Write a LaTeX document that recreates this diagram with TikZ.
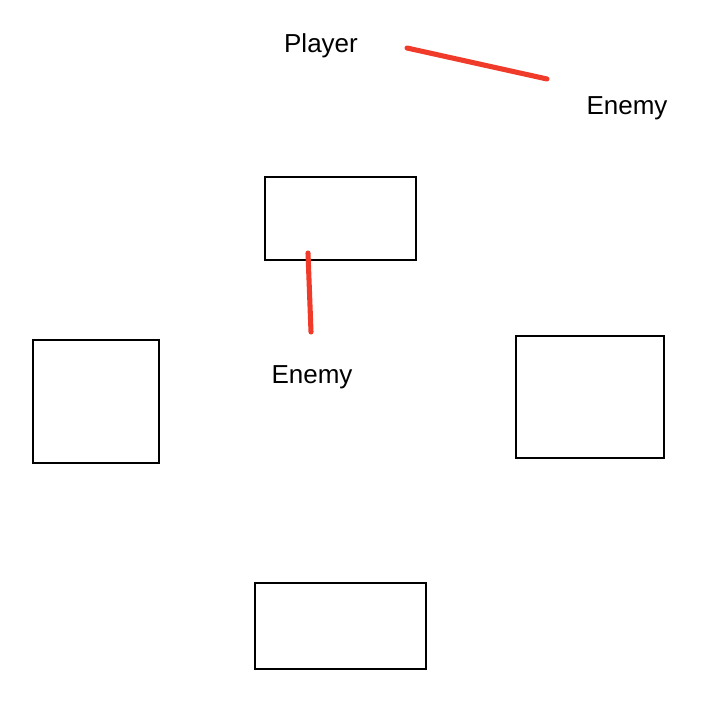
\documentclass[tikz,border=0pt]{standalone}
\usepackage{fontspec}
\setmainfont{Liberation Sans}
\usepackage{tikz}
\usetikzlibrary{positioning}
\definecolor{hitred}{RGB}{240,58,42}

\begin{document}
\begin{tikzpicture}[
    x=0.75pt, y=-0.75pt,
    box/.style={draw, line width=1.1pt, rectangle, inner sep=0pt},
    lbl/.style={anchor=base, inner sep=0pt, font=\fontsize{19.5}{23}\selectfont},
    ray/.style={hitred, line width=3.8pt, line cap=round},
]
\useasboundingbox (0,0) rectangle (700,702);

% Walls
\node[box, minimum width=151*0.75pt, minimum height=83*0.75pt] (top) at (340.5,218.5) {};
\node[box, minimum width=126*0.75pt, minimum height=123*0.75pt] (left) at (96,401.5) {};
\node[box, minimum width=148*0.75pt, minimum height=122*0.75pt] (right) at (590,397) {};
\node[box, minimum width=171*0.75pt, minimum height=86*0.75pt] (bottom) at (340.5,626) {};

% Labels
\node[lbl] (player) at (321,53) {Player};
\node[lbl] (enemy1) at (627,115) {Enemy};
\node[lbl] (enemy2) at (312,383) {Enemy};

% Rays
\coordinate (r1a) at (407,48);
\coordinate (r1b) at (547,79);
\coordinate (r2a) at (308,253);
\coordinate (r2b) at (311,332);
\draw[ray] (r1a) -- (r1b);
\draw[ray] (r2a) -- (r2b);
\end{tikzpicture}
\end{document}
